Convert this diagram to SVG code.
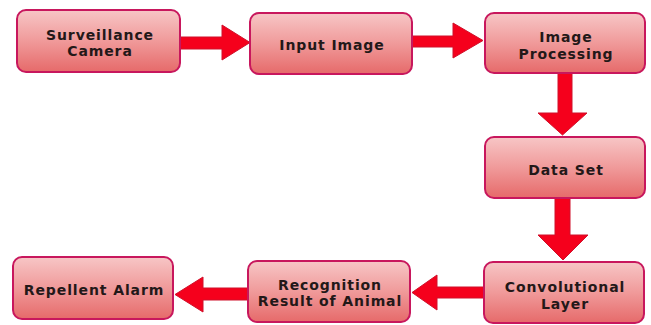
<svg xmlns="http://www.w3.org/2000/svg" width="651" height="325" viewBox="0 0 651 325">
<defs>
<linearGradient id="g" x1="0" y1="0" x2="0" y2="1">
<stop offset="0" stop-color="#f7c6c6"/>
<stop offset="0.5" stop-color="#f09a9a"/>
<stop offset="1" stop-color="#e66a6a"/>
</linearGradient>
</defs>
<style>
.box{fill:url(#g);stroke:#c8175d;stroke-width:2}
.t{font-family:"DejaVu Sans",Verdana,sans-serif;font-weight:bold;font-size:14px;letter-spacing:0.9px;fill:#231818;text-anchor:middle}
.arr{fill:#f5001c;stroke:#d0102a;stroke-width:1}
</style>
<rect width="651" height="325" fill="#ffffff"/>
<g id="connectors">
<polygon class="arr" points="180,37 222,37 222,25 250,42.5 222,60 222,49 180,49"/>
<polygon class="arr" points="412,36 453,36 453,23 483,40.5 453,58 453,47 412,47"/>
<polygon class="arr" points="558,73 572,73 572,113 587,113 562.5,135 538,113 558,113"/>
<polygon class="arr" points="555,198 570,198 570,235 588,235 563,260 538,235 555,235"/>
<polygon class="arr" points="484,287 437,287 437,275 412,292.5 437,310 437,298 484,298"/>
<polygon class="arr" points="248,288 203,288 203,277 175,294.5 203,312 203,300 248,300"/>
</g>
<g id="surveillance-camera">
<rect class="box" x="17" y="10" width="163" height="62" rx="9"/>
<text class="t" x="100" y="39.5">Surveillance</text>
<text class="t" x="100" y="56">Camera</text>
</g>
<g id="input-image">
<rect class="box" x="250" y="13" width="162" height="61" rx="9"/>
<text class="t" x="332" y="50">Input Image</text>
</g>
<g id="image-processing">
<rect class="box" x="485" y="13" width="160" height="60" rx="9"/>
<text class="t" x="566" y="42">Image</text>
<text class="t" x="566" y="58.5">Processing</text>
</g>
<g id="data-set">
<rect class="box" x="485" y="137" width="160" height="61" rx="9"/>
<text class="t" x="566" y="175">Data Set</text>
</g>
<g id="convolutional-layer">
<rect class="box" x="484" y="262" width="160" height="61" rx="9"/>
<text class="t" x="565" y="292">Convolutional</text>
<text class="t" x="565" y="308.5">Layer</text>
</g>
<g id="recognition-result">
<rect class="box" x="248" y="261" width="162" height="61" rx="9"/>
<text class="t" x="330" y="289.5">Recognition</text>
<text class="t" x="330" y="306">Result of Animal</text>
</g>
<g id="repellent-alarm">
<rect class="box" x="13" y="257" width="160" height="62" rx="9"/>
<text class="t" x="94" y="295">Repellent Alarm</text>
</g>
</svg>
